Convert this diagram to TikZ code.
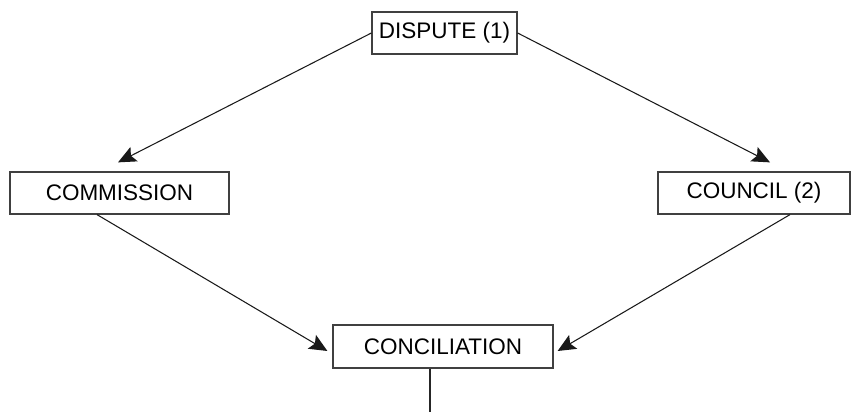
\documentclass[tikz,border=0pt]{standalone}
\usepackage{fontspec}
\setmainfont{Liberation Sans}
\usetikzlibrary{arrows.meta}
\usetikzlibrary{positioning}

\begin{document}
\begin{tikzpicture}[>={Stealth[length=3.6mm,width=3.2mm,inset=0.7mm]},scale=1,every node/.style={rectangle,draw=black!75,line width=0.7pt,fill=white,minimum height=0.84cm,inner sep=0pt,font=\fontsize{12.8}{15}\selectfont}]
\tikzstyle{link} = [->, draw=black!90, line width=0.6pt]
\useasboundingbox (0,0) rectangle (17.04,8.24);

\node[minimum width=2.9cm] (disp) at (8.89,7.58) {DISPUTE (1)};

\node[minimum width=4.38cm] (comm) at (2.39,4.38) {COMMISSION};
\node[minimum width=3.84cm] (coun) at (15.08,4.38) {COUNCIL (2)};

\node[minimum width=4.4cm,minimum height=0.86cm] (conc) at (8.86,1.31) {CONCILIATION};

\coordinate (out) at (8.6,0);

\draw[link] (disp.west) -- ([xshift=-0.03cm,yshift=0.18cm]comm.north);
\draw[link] (disp.east) -- ([xshift=0.32cm,yshift=0.18cm]coun.north);
\draw[link] ([xshift=-0.45cm]comm.south) -- ([xshift=-0.1cm,yshift=-0.09cm]conc.west);
\draw[link] ([xshift=0.72cm]coun.south) -- ([xshift=0.08cm,yshift=-0.09cm]conc.east);
\draw[draw=black!85, line width=0.6pt] (out |- conc.south) -- (out);
\end{tikzpicture}
\end{document}
